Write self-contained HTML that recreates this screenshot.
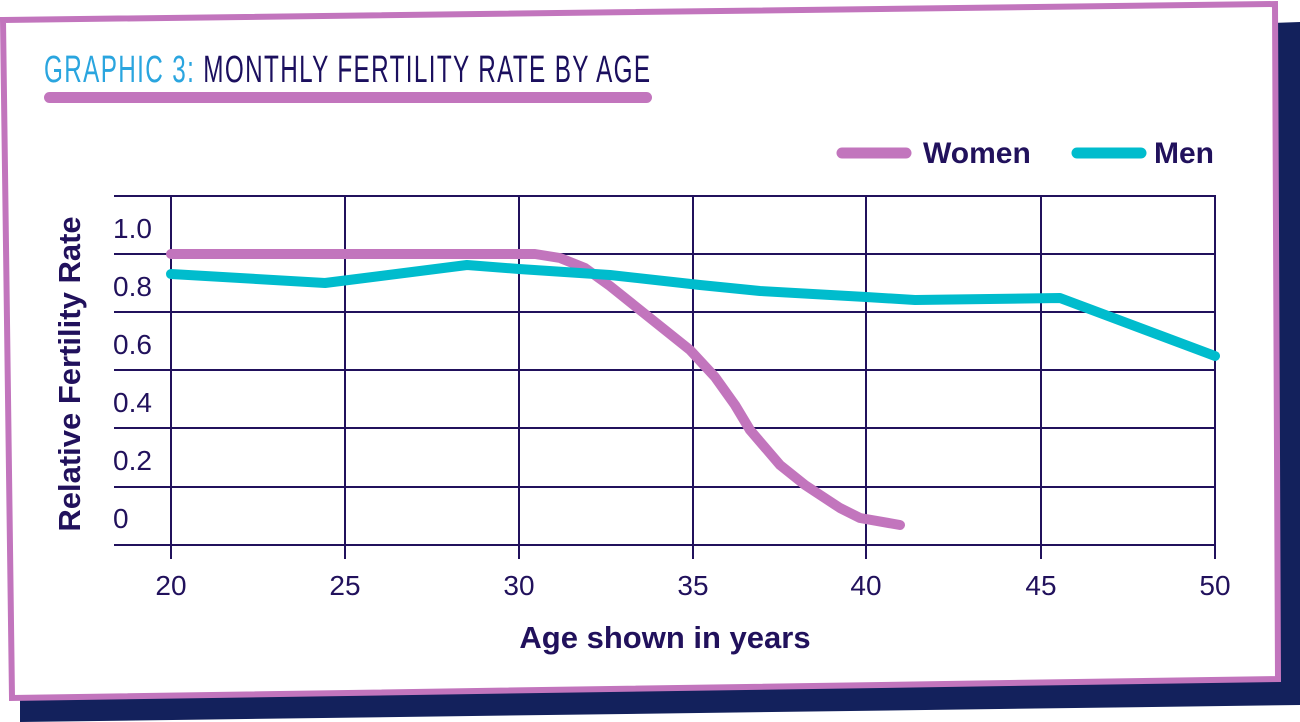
<!DOCTYPE html>
<html><head><meta charset="utf-8"><style>
html,body{margin:0;padding:0;background:#fff;}
svg{display:block;}
text{font-family:"Liberation Sans",sans-serif;}
</style></head><body>
<svg width="1300" height="722" viewBox="0 0 1300 722">
<polygon points="1272,23 1300,22 1300,705 20,722 20,690 1272,680" fill="#13215c"/>
<polygon points="3,20 1275,4 1278,679 12,698" fill="#fff" stroke="#c275bd" stroke-width="6"/>
<g transform="translate(44,82) scale(0.675,1.05)">
<text x="0" y="0" font-size="36" fill="#2aa5df" letter-spacing="2">GRAPHIC 3:<tspan fill="#1b0f5e"> MONTHLY FERTILITY RATE BY AGE</tspan></text>
</g>
<rect x="44" y="92" width="608" height="11" rx="5.5" fill="#c275bd"/>
<line x1="842" y1="153" x2="906" y2="153" stroke="#c275bd" stroke-width="11" stroke-linecap="round"/>
<text x="923" y="163" font-size="30" font-weight="bold" fill="#21115c">Women</text>
<line x1="1077" y1="153" x2="1141" y2="153" stroke="#00bccd" stroke-width="11" stroke-linecap="round"/>
<text x="1154" y="163" font-size="30" font-weight="bold" fill="#21115c">Men</text>
<g stroke="#21115c" stroke-width="2" fill="none">
<line x1="114" y1="196" x2="1216" y2="196"/>
<line x1="114" y1="254" x2="1216" y2="254"/>
<line x1="114" y1="312" x2="1216" y2="312"/>
<line x1="114" y1="370" x2="1216" y2="370"/>
<line x1="114" y1="428" x2="1216" y2="428"/>
<line x1="114" y1="487" x2="1216" y2="487"/>
<line x1="114" y1="545" x2="1216" y2="545"/>
<line x1="171" y1="196" x2="171" y2="559"/>
<line x1="345" y1="196" x2="345" y2="559"/>
<line x1="519" y1="196" x2="519" y2="559"/>
<line x1="693" y1="196" x2="693" y2="559"/>
<line x1="866" y1="196" x2="866" y2="559"/>
<line x1="1041" y1="196" x2="1041" y2="559"/>
<line x1="1215" y1="196" x2="1215" y2="559"/>
</g>
<g font-size="28" fill="#21115c">
<text x="113" y="238">1.0</text>
<text x="113" y="296">0.8</text>
<text x="113" y="354">0.6</text>
<text x="113" y="412">0.4</text>
<text x="113" y="470">0.2</text>
<text x="113" y="528">0</text>
</g>
<g font-size="28" fill="#21115c" text-anchor="middle">
<text x="171" y="595">20</text><text x="345" y="595">25</text><text x="519" y="595">30</text>
<text x="693" y="595">35</text><text x="866" y="595">40</text><text x="1041" y="595">45</text>
<text x="1215" y="595">50</text>
</g>
<text transform="translate(80,374) rotate(-90)" text-anchor="middle" font-size="31" font-weight="bold" fill="#21115c">Relative Fertility Rate</text>
<text x="665" y="648" text-anchor="middle" font-size="31" font-weight="bold" fill="#21115c">Age shown in years</text>
<polyline points="171,254 535,254 560,258 585,268 610,286 650,318 690,350 715,377 735,405 750,430 780,465 805,485 840,508 860,518 900,525" fill="none" stroke="#c275bd" stroke-width="10" stroke-linecap="round" stroke-linejoin="round"/>
<polyline points="171,274 325,283 467,265 519,269 610,275 700,285 760,291 866,297 915,300 1060,298 1215,356" fill="none" stroke="#00bccd" stroke-width="10" stroke-linecap="round" stroke-linejoin="round"/>
</svg>
</body></html>
